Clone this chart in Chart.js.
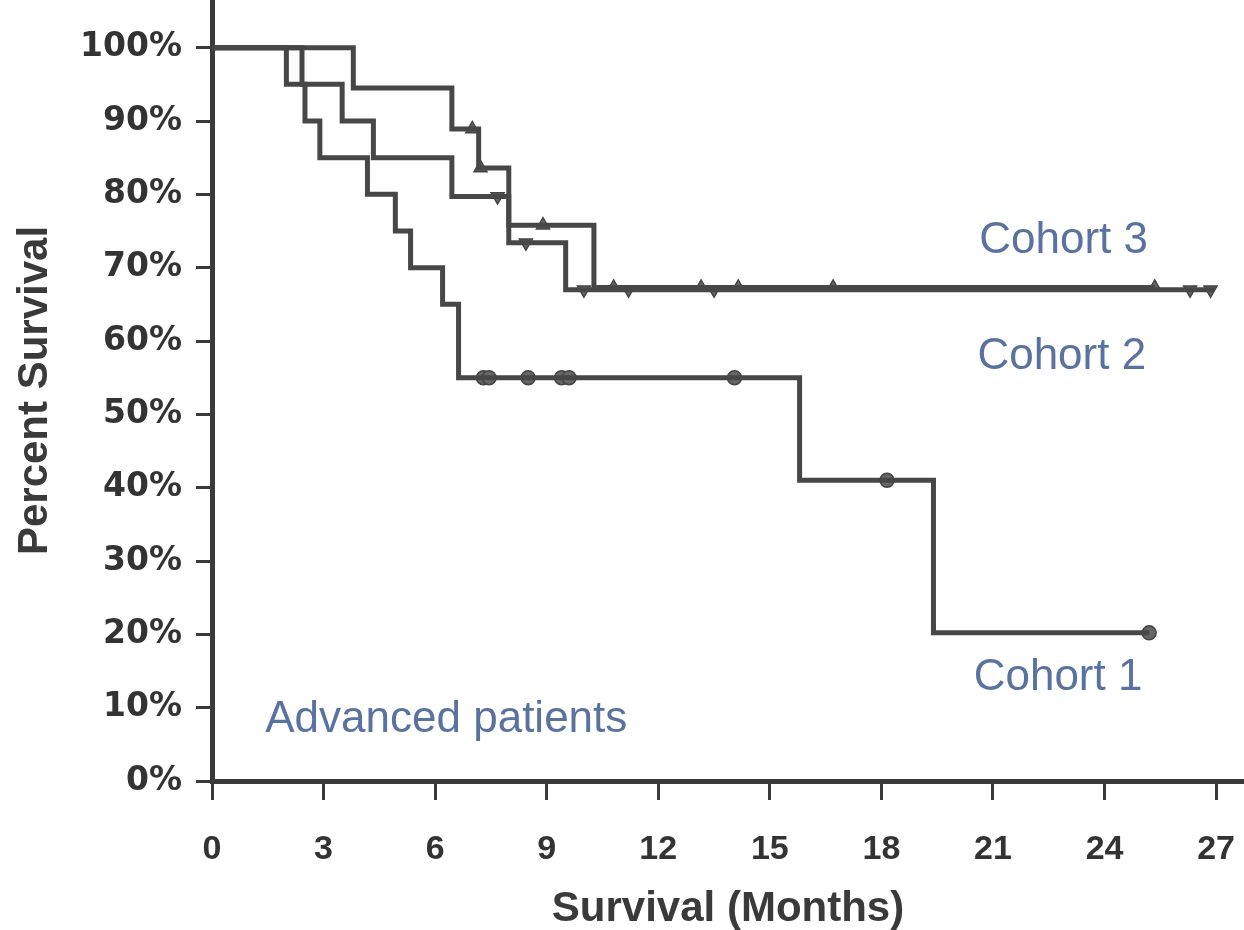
<!DOCTYPE html>
<html>
<head>
<meta charset="utf-8">
<script src="https://cdn.jsdelivr.net/npm/chart.js@4.4.1/dist/chart.umd.min.js"></script>
<style>
  html, body { margin: 0; padding: 0; background: #fff; }
  #wrap { width: 1244px; height: 930px; }
</style>
</head>
<body>
<div id="wrap"><canvas id="kmChart" width="1244" height="930"></canvas></div>
<script>
// step curves: time (months) / survival (%) after each event
const cohort1Times = [0, 2.42, 2.5, 2.9, 4.18, 4.93, 5.34, 6.2, 6.63, 15.8, 19.4, 25.2];
const cohort1Surv  = [100, 95, 90, 85, 80, 75, 70, 65, 55, 41, 20.2, 20.2];
const cohort2Times = [0, 2.0, 3.5, 4.34, 6.45, 7.98, 9.51, 26.95];
const cohort2Surv  = [100, 95, 90, 85, 79.7, 73.4, 67.0, 67.0];
const cohort3Times = [0, 3.8, 6.45, 7.17, 7.98, 10.27, 25.35];
const cohort3Surv  = [100, 94.5, 88.9, 83.6, 75.8, 67.3, 67.3];

// censored patients
const censor1Times = [7.3, 7.45, 8.5, 9.4, 9.6, 14.05, 18.15, 25.2];
const censor1Surv  = [55, 55, 55, 55, 55, 55, 41, 20.2];
const censor2Times = [7.68, 8.44, 10.0, 11.2, 13.5, 26.3, 26.85];
const censor2Surv  = [79.7, 73.4, 67.0, 67.0, 67.0, 67.0, 67.0];
const censor3Times = [7.0, 7.22, 8.9, 10.8, 13.15, 14.15, 16.7, 25.35];
const censor3Surv  = [88.9, 83.6, 75.8, 67.3, 67.3, 67.3, 67.3, 67.3];

const xTicks = [0, 3, 6, 9, 12, 15, 18, 21, 24, 27];
const yTicks = [0, 10, 20, 30, 40, 50, 60, 70, 80, 90, 100];

// in-plot text labels (data coordinates)
const noteTexts = ["Cohort 3", "Cohort 2", "Cohort 1", "Advanced patients"];
const noteX = [22.9, 22.85, 22.75, 6.3];
const noteY = [73.7, 57.8, 14.0, 8.3];

const lineColor = "#474747";
const axisColor = "#3a3a3a";
const noteColor = "#5a72a0";

function pts(xs, ys) {
    return xs.map((x, i) => ({x: x, y: ys[i]}));
}

function stepSet(xs, ys) {
    return {
        type: "line",
        data: pts(xs, ys),
        stepped: "before",
        borderColor: lineColor,
        borderWidth: 5,
        pointRadius: 0,
        fill: false
    };
}

function censorSet(xs, ys, style, rot, r) {
    return {
        type: "scatter",
        data: pts(xs, ys),
        pointStyle: style,
        rotation: rot,
        pointRadius: r,
        backgroundColor: "#666",
        borderColor: "#444",
        borderWidth: 1.5
    };
}

// no extra room for the edge labels: plot area fills the canvas
function noPad(scale) {
    scale.paddingTop = 0;
    scale.paddingBottom = 0;
    scale.paddingLeft = 0;
    scale.paddingRight = 0;
}

const notesPlugin = {
    id: "notes",
    afterDatasetsDraw(chart) {
        const ctx = chart.ctx;
        const xs = chart.scales.x, ys = chart.scales.y;
        ctx.save();
        ctx.fillStyle = noteColor;
        ctx.font = "44px 'Liberation Sans', Arial, sans-serif";
        ctx.textAlign = "center";
        ctx.textBaseline = "middle";
        noteTexts.forEach((t, i) => {
            ctx.fillText(t, xs.getPixelForValue(noteX[i]), ys.getPixelForValue(noteY[i]));
        });
        ctx.restore();
    }
};

new Chart(document.getElementById("kmChart").getContext("2d"), {
    data: {
        datasets: [
            stepSet(cohort1Times, cohort1Surv),
            stepSet(cohort2Times, cohort2Surv),
            stepSet(cohort3Times, cohort3Surv),
            censorSet(censor1Times, censor1Surv, "circle", 0, 7),
            censorSet(censor2Times, censor2Surv, "triangle", 180, 7.5),
            censorSet(censor3Times, censor3Surv, "triangle", 0, 7.5)
        ]
    },
    options: {
        responsive: false,
        animation: false,
        layout: {padding: 0, autoPadding: false},
        plugins: {legend: {display: false}, tooltip: {enabled: false}},
        scales: {
            x: {
                type: "linear",
                min: 0,
                max: 27.75,
                afterFit(scale) { scale.height = 149; noPad(scale); },
                afterBuildTicks(scale) { scale.ticks = xTicks.map(v => ({value: v})); },
                ticks: {
                    padding: 29,
                    color: "#333",
                    font: {family: "'Liberation Sans', Arial, sans-serif", size: 34, weight: "bold"}
                },
                grid: {drawOnChartArea: false, drawTicks: true, tickLength: 19, tickWidth: 3, tickColor: axisColor},
                border: {display: true, color: axisColor, width: 5},
                title: {
                    display: true,
                    text: "Survival (Months)",
                    color: "#3a3a3a",
                    padding: {top: 0, bottom: 0},
                    font: {family: "'Liberation Sans', Arial, sans-serif", size: 42, weight: "bold", lineHeight: 1.0}
                }
            },
            y: {
                type: "linear",
                min: 0,
                max: 106.5,
                afterFit(scale) { scale.width = 212; noPad(scale); },
                afterBuildTicks(scale) { scale.ticks = yTicks.map(v => ({value: v})); },
                ticks: {
                    padding: 14,
                    color: "#333",
                    callback: v => v + "%",
                    font: {family: "'DejaVu Sans', sans-serif", size: 33, weight: "bold"}
                },
                grid: {drawOnChartArea: false, drawTicks: true, tickLength: 16, tickWidth: 3, tickColor: axisColor},
                border: {display: true, color: axisColor, width: 5},
                title: {
                    display: true,
                    text: "Percent Survival",
                    color: "#3a3a3a",
                    padding: {top: 14, bottom: 0},
                    font: {family: "'Liberation Sans', Arial, sans-serif", size: 42, weight: "bold", lineHeight: 1.0}
                }
            }
        }
    },
    plugins: [notesPlugin]
});
</script>
</body>
</html>
